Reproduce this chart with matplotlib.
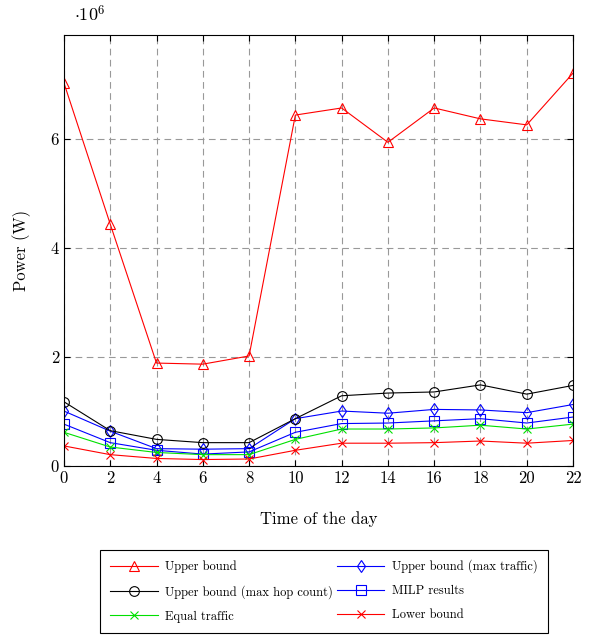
import numpy as np
import matplotlib
matplotlib.use('Agg')
import matplotlib.pyplot as plt
from matplotlib.ticker import FuncFormatter

plt.rcParams['font.family'] = 'serif'
plt.rcParams['font.serif'] = ['cmr10', 'DejaVu Serif']
plt.rcParams['mathtext.fontset'] = 'cm'
plt.rcParams['axes.unicode_minus'] = False

hours = [0, 2, 4, 6, 8, 10, 12, 14, 16, 18, 20, 22]

# power in W
upper = [7.03e6, 4.44e6, 1.89e6, 1.87e6, 2.02e6, 6.44e6, 6.57e6, 5.94e6, 6.57e6, 6.37e6, 6.26e6, 7.21e6]
upper_hop = [1.18e6, 0.65e6, 0.49e6, 0.43e6, 0.43e6, 0.87e6, 1.29e6, 1.34e6, 1.36e6, 1.49e6, 1.32e6, 1.48e6]
equal_traffic = [0.62e6, 0.35e6, 0.25e6, 0.21e6, 0.21e6, 0.49e6, 0.68e6, 0.68e6, 0.70e6, 0.75e6, 0.68e6, 0.77e6]
upper_traffic = [1.01e6, 0.64e6, 0.32e6, 0.31e6, 0.32e6, 0.87e6, 1.01e6, 0.97e6, 1.04e6, 1.03e6, 0.98e6, 1.13e6]
milp = [0.77e6, 0.43e6, 0.29e6, 0.22e6, 0.26e6, 0.62e6, 0.78e6, 0.79e6, 0.83e6, 0.87e6, 0.79e6, 0.90e6]
lower = [0.37e6, 0.21e6, 0.14e6, 0.12e6, 0.13e6, 0.29e6, 0.42e6, 0.42e6, 0.43e6, 0.46e6, 0.42e6, 0.47e6]

fig = plt.figure(figsize=(5.92, 6.35), dpi=100)
ax = fig.add_axes([0.108, 0.266, 0.860, 0.679])

lw = 0.8
ms = 6.5
ax.plot(hours, upper, color='red', lw=lw, marker='^', ms=ms, mfc='none', mew=0.8, label='Upper bound')
ax.plot(hours, upper_traffic, color='blue', lw=lw, marker='d', ms=ms, mfc='none', mew=0.8, label='Upper bound (max traffic)')
ax.plot(hours, upper_hop, color='black', lw=lw, marker='o', ms=ms + 0.5, mfc='none', mew=0.8, label='Upper bound (max hop count)')
ax.plot(hours, milp, color='blue', lw=lw, marker='s', ms=ms, mfc='none', mew=0.8, label='MILP results')
ax.plot(hours, equal_traffic, color='#00e000', lw=lw, marker='x', ms=ms - 0.5, mew=0.8, label='Equal traffic')
ax.plot(hours, lower, color='red', lw=lw, marker='x', ms=ms - 0.5, mew=0.8, label='Lower bound')

ax.set_xlim(0, 22)
ax.set_ylim(0, 7.91e6)
ax.set_xticks(hours)
ax.set_yticks([0, 2e6, 4e6, 6e6])
ax.yaxis.set_major_formatter(FuncFormatter(lambda v, p: '%d' % round(v / 1e6)))
ax.grid(True, color='#999999', linestyle=(0, (6, 4)), lw=0.8)
ax.tick_params(direction='in', labelsize=12, length=4, top=True, right=True)
for s in ax.spines.values():
    s.set_linewidth(0.8)

ax.text(0.02, 1.025, r'$\cdot 10^6$', transform=ax.transAxes, fontsize=13, va='bottom')
ax.set_xlabel('Time of the day', fontsize=12, labelpad=18)
ax.set_ylabel('Power (W)', fontsize=12, labelpad=14)

h, l = ax.get_legend_handles_labels()
order = [0, 2, 4, 1, 3, 5]
leg = fig.legend([h[i] for i in order], [l[i] for i in order], ncol=2,
                 loc='center', bbox_to_anchor=(0.547, 0.069), fontsize=9,
                 fancybox=False, edgecolor='black', framealpha=1,
                 handlelength=3.8, columnspacing=0.3, handletextpad=0.6,
                 labelspacing=0.95, borderpad=0.8)
leg.get_frame().set_linewidth(0.8)

fig.savefig('out.png', dpi=100)
